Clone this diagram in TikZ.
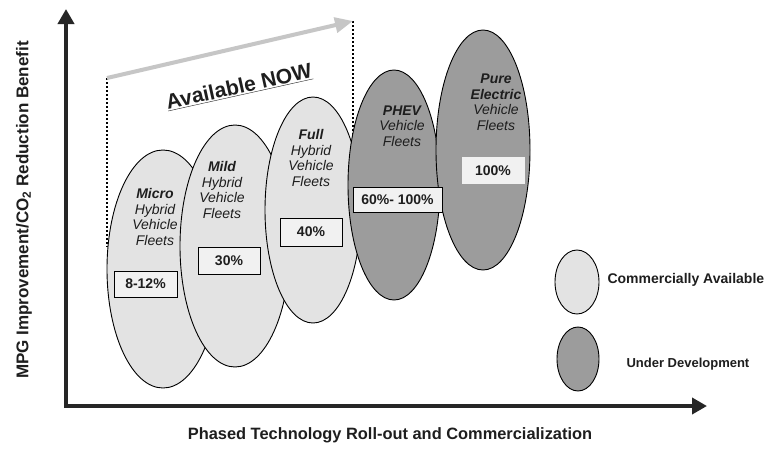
\documentclass[tikz,border=0pt]{standalone}
\usepackage{fontspec}
\setmainfont{Liberation Sans}
\usetikzlibrary{arrows.meta,shapes.geometric}
\definecolor{lightfill}{HTML}{E3E3E3}
\definecolor{darkfill}{HTML}{9C9C9C}
\definecolor{axiscol}{HTML}{262626}
\definecolor{arrowgray}{HTML}{C6C6C6}
\definecolor{boxfill}{HTML}{F1F1F1}
\definecolor{txt}{HTML}{1E1E1E}
\tikzset{
  oval/.style={ellipse, draw=black, line width=0.9pt, inner sep=0pt},
  lightoval/.style={oval, fill=lightfill},
  darkoval/.style={oval, fill=darkfill},
  ovaltext/.style={align=center, text=txt, font=\fontsize{14}{15.5}\selectfont\itshape},
  pctbox/.style={draw=black, line width=0.9pt, fill=boxfill, text=txt, inner sep=0pt, font=\fontsize{14}{16}\selectfont\bfseries},
  legtext/.style={anchor=west, text=txt, font=\fontsize{14}{16}\selectfont\bfseries},
  axislbl/.style={text=txt, font=\fontsize{16.4}{18}\selectfont\bfseries},
  dotline/.style={line width=2pt, dash pattern=on 2.2pt off 1.8pt},
}
\begin{document}
\begin{tikzpicture}[x=1pt,y=-1pt]
\path[use as bounding box, fill=white] (0,0) rectangle (766,448);

% dotted guide lines and arrow
\coordinate (a1) at (107,78);
\coordinate (a2) at (353,21);
\coordinate (d1) at (107,247);
\coordinate (d2) at (353,135);
\draw[dotline] (a1) -- (d1);
\draw[dotline] (a2) -- (d2);
\draw[arrowgray, line width=4pt, -{Triangle[length=18pt,width=15pt]}] (a1) -- (a2);
\node[rotate=12.5, text=txt, font=\fontsize{21}{24}\selectfont\bfseries] (now) at (239,87) {\underline{Available NOW}};

% axes
\coordinate (ytip) at (66,9);
\coordinate (org) at (66,406);
\coordinate (xtip) at (707,406);
\draw[axiscol, line width=4.5pt, line join=miter, {Triangle[length=15pt,width=16pt]}-{Triangle[length=15pt,width=16pt]}] (ytip) -- (org) -- (xtip);
\node[axislbl, rotate=90, font=\fontsize{17}{19}\selectfont\bfseries] (ylab) at (24,210) {MPG Improvement/CO\textsubscript{2} Reduction Benefit};
\node[axislbl] (xlab) at (390,435.5) {Phased Technology Roll-out and Commercialization};

% ellipses
\node[lightoval, minimum width=112pt, minimum height=238pt] (micro) at (163,269) {};
\node[lightoval, minimum width=110pt, minimum height=242pt] (mild) at (235,246) {};
\node[lightoval, minimum width=96pt, minimum height=226pt] (full) at (313,210) {};
\node[darkoval, minimum width=92pt, minimum height=230pt] (phev) at (394,185) {};
\node[darkoval, minimum width=94pt, minimum height=240pt] (pure) at (483,150) {};

% ellipse texts
\node[ovaltext] (tmicro) at (155,217) {\textbf{Micro}\\Hybrid\\Vehicle\\Fleets};
\node[ovaltext] (tmild) at (222,190) {\textbf{Mild}\\Hybrid\\Vehicle\\Fleets};
\node[ovaltext] (tfull) at (311,158) {\textbf{Full}\\Hybrid\\Vehicle\\Fleets};
\node[ovaltext] (tphev) at (402,126) {\textbf{PHEV}\\Vehicle\\Fleets};
\node[ovaltext] (tpure) at (496,102) {\textbf{Pure}\\\textbf{Electric}\\Vehicle\\Fleets};

% percentage boxes
\node[pctbox, minimum width=63pt, minimum height=26pt] (bmicro) at (145.5,284) {8-12\%};
\node[pctbox, minimum width=62pt, minimum height=27pt] (bmild) at (229,260.5) {30\%};
\node[pctbox, minimum width=62pt, minimum height=28pt] (bfull) at (311,232) {40\%};
\node[pctbox, minimum width=89pt, minimum height=25pt] (bphev) at (397.5,199.5) {60\%- 100\%};
\node[pctbox, draw=none, minimum width=63pt, minimum height=27pt] (bpure) at (493,170.5) {100\%};

% legend
\node[lightoval, minimum width=44pt, minimum height=64pt] (leg1) at (577,282) {};
\node[darkoval, minimum width=42pt, minimum height=64pt] (leg2) at (578,359) {};
\node[legtext] (leg1t) at (604,279.5) {Commercially Available};
\node[legtext, font=\fontsize{13}{15}\selectfont\bfseries] (leg2t) at (623,364) {Under Development};
\end{tikzpicture}
\end{document}
